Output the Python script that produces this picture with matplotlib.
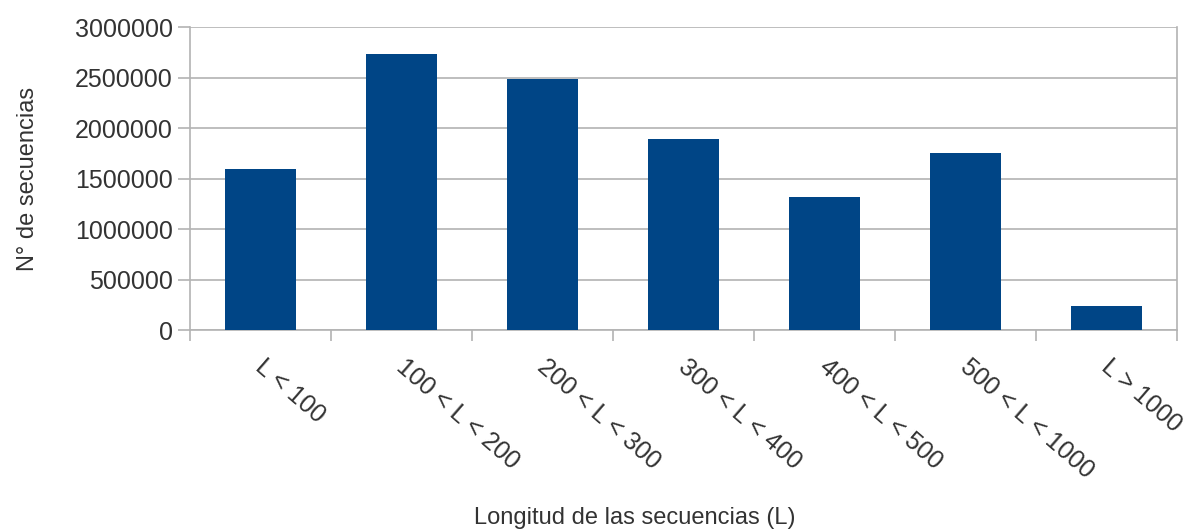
import matplotlib
matplotlib.use("Agg")
import matplotlib.pyplot as plt
import matplotlib.transforms as mtransforms
import numpy as np

categories = ["L < 100", "100 < L < 200", "200 < L < 300", "300 < L < 400",
              "400 < L < 500", "500 < L < 1000", "L > 1000"]
counts = [1596000, 2735000, 2488000, 1893000, 1318000, 1754000, 238000]
y_ticks = [0, 500000, 1000000, 1500000, 2000000, 2500000, 3000000]

plt.rcParams['font.family'] = ['Liberation Sans', 'DejaVu Sans']
txt = '#333333'
grid = '#b3b3b3'

fig = plt.figure(figsize=(11.92, 5.30), dpi=100)
ax = fig.add_axes([190/1192, 1-330/530, (1177-190)/1192, (330-27.3)/530])

x = np.arange(len(categories))
ax.bar(x, counts, width=0.5, color='#004586', zorder=3)
ax.set_xlim(-0.5, len(categories)-0.5)
ax.set_ylim(0, 3000000)
ax.set_yticks(y_ticks)
ax.set_yticklabels([str(v) for v in y_ticks], fontsize=18, color=txt)
ax.yaxis.grid(True, color=grid, linewidth=1.2, zorder=0)
ax.tick_params(axis='y', length=8.5, color=grid, width=1.2, pad=4)

ax.set_xticks(x)
ax.set_xticklabels(categories, rotation=-41, ha='left', va='top',
                   rotation_mode='anchor', fontsize=18, color=txt)
ax.tick_params(axis='x', which='major', length=0, pad=18)
offset = mtransforms.ScaledTranslation(6/100, 0, fig.dpi_scale_trans)
for lab in ax.get_xticklabels():
    lab.set_transform(lab.get_transform() + offset)
ax.set_xticks(np.arange(len(categories)+1)-0.5, minor=True)
ax.tick_params(axis='x', which='minor', length=8, color=grid, width=1.2)

for s in ['left', 'right', 'bottom']:
    ax.spines[s].set_color(grid)
    ax.spines[s].set_linewidth(1.2)
ax.spines['top'].set_visible(False)

ax.set_ylabel("N° de secuencias", fontsize=17, color=txt, labelpad=26)
fig.text(635/1192, 1-518/530, "Longitud de las secuencias (L)", fontsize=17,
         color=txt, ha='center', va='center')

fig.savefig("out.png", dpi=100)
